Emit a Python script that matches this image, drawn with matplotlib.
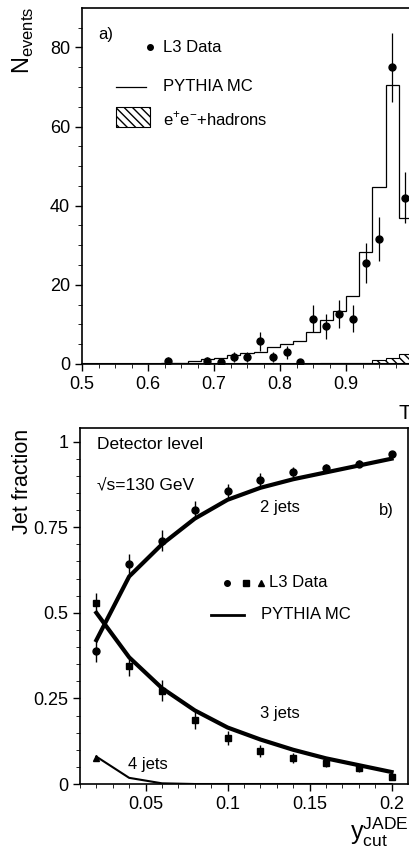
import matplotlib.pyplot as plt
import numpy as np

plt.rcParams['font.family'] = ['Liberation Sans', 'DejaVu Sans']

# panel a) thrust distribution
edges = np.round(np.arange(0.50, 1.001, 0.02), 2)
mc_vals = [0.1, 0.1, 0.1, 0.1, 0.1, 0.1, 0.2, 0.3, 0.7, 1.2, 1.4, 2.3, 2.7, 3.1,
           4.4, 5.0, 5.9, 8.0, 11.0, 13.5, 17.2, 28.4, 44.6, 70.6, 37.0]
bg_vals = [0, 0, 0, 0, 0, 0, 0, 0, 0, 0, 0, 0, 0, 0,
           0, 0, 0, 0, 0.3, 0.3, 0.2, 0.3, 0.9, 1.6, 2.4]
t_x = [0.63, 0.69, 0.71, 0.73, 0.75, 0.77, 0.79, 0.81, 0.83, 0.85, 0.87, 0.89,
       0.91, 0.93, 0.95, 0.97, 0.99]
t_y = [0.8, 0.8, 0.5, 1.7, 1.7, 5.8, 1.7, 2.9, 0.5, 11.4, 9.5, 12.6, 11.4, 25.5,
       31.6, 75.0, 42.0]
t_err = [0.9, 0.9, 0.7, 1.3, 1.3, 2.4, 1.3, 1.7, 0.7, 3.4, 3.1, 3.5, 3.4, 5.0,
         5.6, 8.7, 6.5]

# panel b) jet fractions
ycut = [0.02, 0.04, 0.06, 0.08, 0.10, 0.12, 0.14, 0.16, 0.18, 0.20]
j2 = [0.387, 0.643, 0.711, 0.800, 0.855, 0.889, 0.910, 0.923, 0.935, 0.964]
j2_err = [0.03, 0.03, 0.03, 0.025, 0.02, 0.02, 0.015, 0.012, 0.01, 0.008]
j3 = [0.528, 0.345, 0.273, 0.187, 0.134, 0.097, 0.075, 0.062, 0.046, 0.021]
j3_err = [0.03, 0.03, 0.03, 0.025, 0.02, 0.018, 0.015, 0.012, 0.01, 0.008]
j4 = [0.075, 0.005, 0.001, 0.0, 0.0, 0.0, 0.0, 0.0, 0.0, 0.0]
mc2 = [0.42, 0.606, 0.70, 0.775, 0.83, 0.865, 0.89, 0.91, 0.93, 0.95]
mc3 = [0.50, 0.37, 0.28, 0.215, 0.165, 0.13, 0.10, 0.075, 0.055, 0.035]
mc4 = [0.08, 0.018, 0.002, 0.0, 0.0, 0.0, 0.0, 0.0, 0.0, 0.0]

fig = plt.figure(figsize=(4.10, 8.52), dpi=100)

ax1 = fig.add_axes([0.200, 0.5728, 0.805, 0.418])
ax1.stairs(bg_vals, edges, fill=True, facecolor='white', edgecolor='black',
           hatch='\\\\\\\\', linewidth=0.8)
ax1.stairs(mc_vals, edges, color='black', linewidth=0.9)
ax1.errorbar(t_x, t_y, yerr=t_err, fmt='o', color='black', markersize=5,
             elinewidth=0.9, capsize=0)
ax1.axhline(0, color='black', linewidth=1.5)
ax1.set_xlim(0.5, 1.0)
ax1.set_ylim(0, 90)
ax1.set_xticks([0.5, 0.6, 0.7, 0.8, 0.9, 1.0])
ax1.set_xticklabels(['0.5', '0.6', '0.7', '0.8', '0.9', ''])
ax1.set_xticks(np.arange(0.5, 1.0, 0.025), minor=True)
ax1.set_yticks([0, 20, 40, 60, 80])
ax1.set_yticks(np.arange(5, 90, 5), minor=True)
ax1.tick_params(labelsize=13, length=5, width=1)
ax1.tick_params(which='minor', length=3)
ax1.text(0.05, 0.925, 'a)', transform=ax1.transAxes, fontsize=12, va='center')
# legend of panel a
ax1.plot([0.603], [80], 'o', color='black', markersize=4)
ax1.text(0.623, 80, 'L3 Data', fontsize=12, va='center')
ax1.plot([0.552, 0.597], [70, 70], color='black', linewidth=0.9)
ax1.text(0.623, 70, 'PYTHIA MC', fontsize=12, va='center')
ax1.fill_between([0.552, 0.603], 60, 65, facecolor='white', edgecolor='black',
                 hatch='\\\\\\\\', linewidth=0.8)
ax1.text(0.623, 62, r'e$^{\mathregular{+}}$e$^{\mathregular{-}}$+hadrons',
         fontsize=12, va='center')
for s in ax1.spines.values():
    s.set_linewidth(1.2)
fig.text(0.058, 0.953, r'N$_{\mathregular{events}}$', fontsize=17, rotation=90,
         ha='center', va='center')
fig.text(0.971, 0.515, 'T', fontsize=15, ha='left', va='center')

ax2 = fig.add_axes([0.195, 0.0798, 0.800, 0.418])
ax2.plot(ycut, mc2, color='black', linewidth=3)
ax2.plot(ycut, mc3, color='black', linewidth=3)
ax2.plot(ycut, mc4, color='black', linewidth=1.5)
ax2.errorbar(ycut, j2, yerr=j2_err, fmt='o', color='black', markersize=5,
             elinewidth=1, capsize=0)
ax2.errorbar(ycut, j3, yerr=j3_err, fmt='s', color='black', markersize=5,
             elinewidth=1, capsize=0)
ax2.plot(ycut[:1], j4[:1], '^', color='black', markersize=5)
ax2.set_xlim(0.01, 0.21)
ax2.set_ylim(0, 1.04)
ax2.set_xticks([0.05, 0.1, 0.15, 0.2])
ax2.set_xticklabels(['0.05', '0.1', '0.15', '0.2'])
ax2.set_xticks(np.arange(0.01, 0.21, 0.01), minor=True)
ax2.set_yticks([0, 0.25, 0.5, 0.75, 1])
ax2.set_yticklabels(['0', '0.25', '0.5', '0.75', '1'])
ax2.set_yticks(np.arange(0.05, 1.0, 0.05), minor=True)
ax2.tick_params(labelsize=13, length=5, width=1)
ax2.tick_params(which='minor', length=3)
ax2.text(0.052, 0.952, 'Detector level', transform=ax2.transAxes, fontsize=12.5, va='center')
ax2.text(0.052, 0.84, '\u221as=130 GeV', transform=ax2.transAxes, fontsize=12.5, va='center')
ax2.text(0.12, 0.807, '2 jets', fontsize=12, va='center')
ax2.text(0.192, 0.80, 'b)', fontsize=12, va='center')
ax2.text(0.12, 0.207, '3 jets', fontsize=12, va='center')
ax2.text(0.039, 0.058, '4 jets', fontsize=12, va='center')
# legend of panel b
ax2.plot([0.0999], [0.588], 'o', color='black', markersize=4)
ax2.plot([0.111], [0.588], 's', color='black', markersize=4)
ax2.plot([0.1206], [0.588], '^', color='black', markersize=4)
ax2.text(0.125, 0.588, 'L3 Data', fontsize=12, va='center')
ax2.plot([0.090, 0.110], [0.494, 0.494], color='black', linewidth=2)
ax2.text(0.1206, 0.494, 'PYTHIA MC', fontsize=12, va='center')
for s in ax2.spines.values():
    s.set_linewidth(1.2)
fig.text(0.054, 0.435, 'Jet fraction', fontsize=15.5, rotation=90,
         ha='center', va='center')
fig.text(0.997, 0.003, r'y$_{\mathregular{cut}}^{\mathregular{JADE}}$', fontsize=18,
         ha='right', va='bottom')

fig.savefig('out.png', dpi=100)
